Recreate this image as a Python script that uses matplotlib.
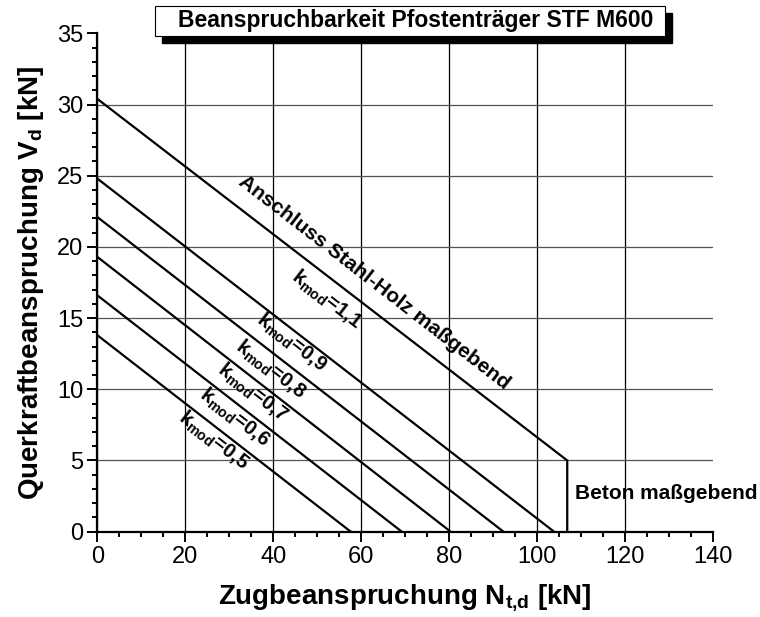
import numpy as np
import matplotlib
matplotlib.use('Agg')
import matplotlib.pyplot as plt
from matplotlib.patches import Rectangle

plt.rcParams['font.family'] = ['Liberation Sans', 'DejaVu Sans']
plt.rcParams['mathtext.fontset'] = 'custom'
plt.rcParams['mathtext.rm'] = 'Liberation Sans'
plt.rcParams['mathtext.bf'] = 'Liberation Sans:bold'

# Kennlinien je k_mod (N_t,d in kN, V_d in kN)
kmod_labels = ['1,1', '0,9', '0,8', '0,7', '0,6', '0,5']
line_n = [[0, 106.8, 106.8], [0, 103.8], [0, 92.3], [0, 80.3], [0, 69.2], [0, 57.6]]
line_v = [[30.4, 5.0, 0], [24.8, 0], [22.1, 0], [19.3, 0], [16.6, 0], [13.8, 0]]

# Lage der Beschriftungen
label_n = [52.1, 44.2, 39.3, 35.2, 31.3, 26.4]
label_v = [16.3, 13.3, 11.4, 9.8, 8.0, 6.4]

fig = plt.figure(figsize=(7.6, 6.17), dpi=100)
ax = fig.add_axes([0.128, 0.1383, 0.8106, 0.8077])

for n, v in zip(line_n, line_v):
    ax.plot(n, v, color='black', lw=1.6, solid_joinstyle='miter', zorder=3)

ax.set_xlim(0, 140)
ax.set_ylim(0, 35)
ax.set_xticks(np.arange(0, 141, 20))
ax.set_yticks(np.arange(0, 36, 5))
ax.set_xticks(np.arange(0, 141, 5), minor=True)
ax.set_yticks(np.arange(0, 36, 1), minor=True)

ax.grid(True, axis='x', color='black', lw=0.9)
ax.grid(True, axis='y', color='#555555', lw=0.9)
ax.get_xgridlines()[-1].set_visible(False)
ax.get_ygridlines()[-1].set_visible(False)

for s in ['top', 'right']:
    ax.spines[s].set_visible(False)
for s in ['left', 'bottom']:
    ax.spines[s].set_linewidth(1.6)
    ax.spines[s].set_zorder(4)

ax.tick_params(which='major', direction='out', length=7, width=1.4, labelsize=17, pad=3)
ax.tick_params(which='minor', direction='out', length=3.5, width=1.4)

ax.set_xlabel(r'Zugbeanspruchung $\mathbf{N}_{\mathbf{t{,}d}}$ [kN]', fontsize=20,
              fontweight='bold', labelpad=11)
ax.set_ylabel(r'Querkraftbeanspruchung $\mathbf{V}_{\mathbf{d}}$ [kN]', fontsize=20,
              fontweight='bold', labelpad=8)

# Winkel der Geraden in Bildkoordinaten
p0 = ax.transData.transform((line_n[1][0], line_v[1][0]))
p1 = ax.transData.transform((line_n[1][1], line_v[1][1]))
angle = np.degrees(np.arctan2(p1[1] - p0[1], p1[0] - p0[0]))

for lab, n, v in zip(kmod_labels, label_n, label_v):
    ax.text(n, v, r'$\mathbf{k}_{\mathbf{mod}}$=' + lab, fontsize=14.5, fontweight='bold',
            rotation=angle, rotation_mode='anchor', ha='center', va='center', zorder=5)

ax.text(62.9, 17.5, 'Anschluss Stahl-Holz maßgebend', fontsize=15, fontweight='bold',
        rotation=angle, rotation_mode='anchor', ha='center', va='center', zorder=5)
ax.text(108.6, 2.7, 'Beton maßgebend', fontsize=15, fontweight='bold',
        ha='left', va='center', clip_on=False, zorder=5)

# Titelkasten mit Schatten
W, H = 760.0, 617.0
fig.add_artist(Rectangle((162 / W, 1 - 43 / H), 510 / W, 30 / H, transform=fig.transFigure,
                         facecolor='black', edgecolor='black', zorder=10))
fig.add_artist(Rectangle((155 / W, 1 - 36 / H), 510 / W, 30 / H, transform=fig.transFigure,
                         facecolor='white', edgecolor='black', lw=0.8, zorder=11))
fig.text(416 / W, 1 - 21 / H, 'Beanspruchbarkeit Pfostenträger STF M600', fontsize=16.5,
         fontweight='bold', ha='center', va='center', zorder=12)

fig.savefig('out.png', dpi=100)
